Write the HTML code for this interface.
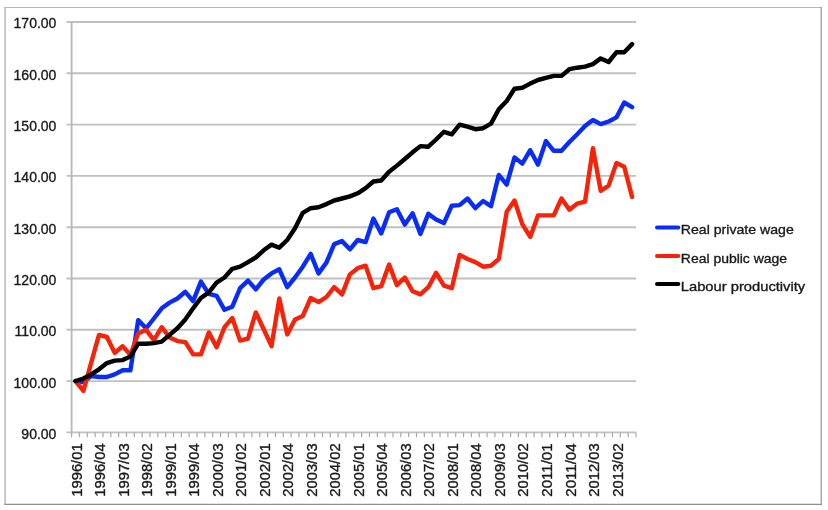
<!DOCTYPE html>
<html><head><meta charset="utf-8"><title>Chart</title>
<style>
html,body{margin:0;padding:0;background:#fff;}
body{width:828px;height:510px;overflow:hidden;}
svg{display:block;}
text{font-family:"Liberation Sans",sans-serif;fill:#1a1a1a;stroke:#1a1a1a;stroke-width:0.35px;}
</style></head><body>
<svg width="828" height="510" viewBox="0 0 828 510">
<rect x="0" y="0" width="828" height="510" fill="#fff"/>
<line x1="4.4" y1="7.5" x2="821.8" y2="7.5" stroke="#b8b8b8" stroke-width="1.2"/>
<line x1="5.1" y1="7" x2="5.1" y2="504.8" stroke="#b8b8b8" stroke-width="1.5"/>
<line x1="821.2" y1="7" x2="821.2" y2="504.9" stroke="#959595" stroke-width="1.2"/>
<line x1="4.4" y1="504.3" x2="821.8" y2="504.3" stroke="#8f8f8f" stroke-width="1.2"/>

<line x1="66.6" y1="22.0" x2="636.0" y2="22.0" stroke="#c0c0c0" stroke-width="1.9"/>
<line x1="66.6" y1="73.3" x2="636.0" y2="73.3" stroke="#c0c0c0" stroke-width="1.9"/>
<line x1="66.6" y1="124.6" x2="636.0" y2="124.6" stroke="#c0c0c0" stroke-width="1.9"/>
<line x1="66.6" y1="175.9" x2="636.0" y2="175.9" stroke="#c0c0c0" stroke-width="1.9"/>
<line x1="66.6" y1="227.2" x2="636.0" y2="227.2" stroke="#c0c0c0" stroke-width="1.9"/>
<line x1="66.6" y1="278.5" x2="636.0" y2="278.5" stroke="#c0c0c0" stroke-width="1.9"/>
<line x1="66.6" y1="329.8" x2="636.0" y2="329.8" stroke="#c0c0c0" stroke-width="1.9"/>
<line x1="66.6" y1="381.1" x2="636.0" y2="381.1" stroke="#c0c0c0" stroke-width="1.9"/>
<line x1="66.6" y1="432.4" x2="636.0" y2="432.4" stroke="#c0c0c0" stroke-width="1.9"/>
<line x1="71.6" y1="22.0" x2="71.6" y2="432.4" stroke="#b6b6b6" stroke-width="1.8"/>
<line x1="71.60" y1="432.4" x2="71.60" y2="437.2" stroke="#a8a8a8" stroke-width="1.2"/>
<line x1="79.44" y1="432.4" x2="79.44" y2="437.2" stroke="#a8a8a8" stroke-width="1.2"/>
<line x1="87.28" y1="432.4" x2="87.28" y2="437.2" stroke="#a8a8a8" stroke-width="1.2"/>
<line x1="95.12" y1="432.4" x2="95.12" y2="437.2" stroke="#a8a8a8" stroke-width="1.2"/>
<line x1="102.96" y1="432.4" x2="102.96" y2="437.2" stroke="#a8a8a8" stroke-width="1.2"/>
<line x1="110.79" y1="432.4" x2="110.79" y2="437.2" stroke="#a8a8a8" stroke-width="1.2"/>
<line x1="118.63" y1="432.4" x2="118.63" y2="437.2" stroke="#a8a8a8" stroke-width="1.2"/>
<line x1="126.47" y1="432.4" x2="126.47" y2="437.2" stroke="#a8a8a8" stroke-width="1.2"/>
<line x1="134.31" y1="432.4" x2="134.31" y2="437.2" stroke="#a8a8a8" stroke-width="1.2"/>
<line x1="142.15" y1="432.4" x2="142.15" y2="437.2" stroke="#a8a8a8" stroke-width="1.2"/>
<line x1="149.99" y1="432.4" x2="149.99" y2="437.2" stroke="#a8a8a8" stroke-width="1.2"/>
<line x1="157.83" y1="432.4" x2="157.83" y2="437.2" stroke="#a8a8a8" stroke-width="1.2"/>
<line x1="165.67" y1="432.4" x2="165.67" y2="437.2" stroke="#a8a8a8" stroke-width="1.2"/>
<line x1="173.51" y1="432.4" x2="173.51" y2="437.2" stroke="#a8a8a8" stroke-width="1.2"/>
<line x1="181.34" y1="432.4" x2="181.34" y2="437.2" stroke="#a8a8a8" stroke-width="1.2"/>
<line x1="189.18" y1="432.4" x2="189.18" y2="437.2" stroke="#a8a8a8" stroke-width="1.2"/>
<line x1="197.02" y1="432.4" x2="197.02" y2="437.2" stroke="#a8a8a8" stroke-width="1.2"/>
<line x1="204.86" y1="432.4" x2="204.86" y2="437.2" stroke="#a8a8a8" stroke-width="1.2"/>
<line x1="212.70" y1="432.4" x2="212.70" y2="437.2" stroke="#a8a8a8" stroke-width="1.2"/>
<line x1="220.54" y1="432.4" x2="220.54" y2="437.2" stroke="#a8a8a8" stroke-width="1.2"/>
<line x1="228.38" y1="432.4" x2="228.38" y2="437.2" stroke="#a8a8a8" stroke-width="1.2"/>
<line x1="236.22" y1="432.4" x2="236.22" y2="437.2" stroke="#a8a8a8" stroke-width="1.2"/>
<line x1="244.06" y1="432.4" x2="244.06" y2="437.2" stroke="#a8a8a8" stroke-width="1.2"/>
<line x1="251.89" y1="432.4" x2="251.89" y2="437.2" stroke="#a8a8a8" stroke-width="1.2"/>
<line x1="259.73" y1="432.4" x2="259.73" y2="437.2" stroke="#a8a8a8" stroke-width="1.2"/>
<line x1="267.57" y1="432.4" x2="267.57" y2="437.2" stroke="#a8a8a8" stroke-width="1.2"/>
<line x1="275.41" y1="432.4" x2="275.41" y2="437.2" stroke="#a8a8a8" stroke-width="1.2"/>
<line x1="283.25" y1="432.4" x2="283.25" y2="437.2" stroke="#a8a8a8" stroke-width="1.2"/>
<line x1="291.09" y1="432.4" x2="291.09" y2="437.2" stroke="#a8a8a8" stroke-width="1.2"/>
<line x1="298.93" y1="432.4" x2="298.93" y2="437.2" stroke="#a8a8a8" stroke-width="1.2"/>
<line x1="306.77" y1="432.4" x2="306.77" y2="437.2" stroke="#a8a8a8" stroke-width="1.2"/>
<line x1="314.61" y1="432.4" x2="314.61" y2="437.2" stroke="#a8a8a8" stroke-width="1.2"/>
<line x1="322.44" y1="432.4" x2="322.44" y2="437.2" stroke="#a8a8a8" stroke-width="1.2"/>
<line x1="330.28" y1="432.4" x2="330.28" y2="437.2" stroke="#a8a8a8" stroke-width="1.2"/>
<line x1="338.12" y1="432.4" x2="338.12" y2="437.2" stroke="#a8a8a8" stroke-width="1.2"/>
<line x1="345.96" y1="432.4" x2="345.96" y2="437.2" stroke="#a8a8a8" stroke-width="1.2"/>
<line x1="353.80" y1="432.4" x2="353.80" y2="437.2" stroke="#a8a8a8" stroke-width="1.2"/>
<line x1="361.64" y1="432.4" x2="361.64" y2="437.2" stroke="#a8a8a8" stroke-width="1.2"/>
<line x1="369.48" y1="432.4" x2="369.48" y2="437.2" stroke="#a8a8a8" stroke-width="1.2"/>
<line x1="377.32" y1="432.4" x2="377.32" y2="437.2" stroke="#a8a8a8" stroke-width="1.2"/>
<line x1="385.16" y1="432.4" x2="385.16" y2="437.2" stroke="#a8a8a8" stroke-width="1.2"/>
<line x1="392.99" y1="432.4" x2="392.99" y2="437.2" stroke="#a8a8a8" stroke-width="1.2"/>
<line x1="400.83" y1="432.4" x2="400.83" y2="437.2" stroke="#a8a8a8" stroke-width="1.2"/>
<line x1="408.67" y1="432.4" x2="408.67" y2="437.2" stroke="#a8a8a8" stroke-width="1.2"/>
<line x1="416.51" y1="432.4" x2="416.51" y2="437.2" stroke="#a8a8a8" stroke-width="1.2"/>
<line x1="424.35" y1="432.4" x2="424.35" y2="437.2" stroke="#a8a8a8" stroke-width="1.2"/>
<line x1="432.19" y1="432.4" x2="432.19" y2="437.2" stroke="#a8a8a8" stroke-width="1.2"/>
<line x1="440.03" y1="432.4" x2="440.03" y2="437.2" stroke="#a8a8a8" stroke-width="1.2"/>
<line x1="447.87" y1="432.4" x2="447.87" y2="437.2" stroke="#a8a8a8" stroke-width="1.2"/>
<line x1="455.71" y1="432.4" x2="455.71" y2="437.2" stroke="#a8a8a8" stroke-width="1.2"/>
<line x1="463.54" y1="432.4" x2="463.54" y2="437.2" stroke="#a8a8a8" stroke-width="1.2"/>
<line x1="471.38" y1="432.4" x2="471.38" y2="437.2" stroke="#a8a8a8" stroke-width="1.2"/>
<line x1="479.22" y1="432.4" x2="479.22" y2="437.2" stroke="#a8a8a8" stroke-width="1.2"/>
<line x1="487.06" y1="432.4" x2="487.06" y2="437.2" stroke="#a8a8a8" stroke-width="1.2"/>
<line x1="494.90" y1="432.4" x2="494.90" y2="437.2" stroke="#a8a8a8" stroke-width="1.2"/>
<line x1="502.74" y1="432.4" x2="502.74" y2="437.2" stroke="#a8a8a8" stroke-width="1.2"/>
<line x1="510.58" y1="432.4" x2="510.58" y2="437.2" stroke="#a8a8a8" stroke-width="1.2"/>
<line x1="518.42" y1="432.4" x2="518.42" y2="437.2" stroke="#a8a8a8" stroke-width="1.2"/>
<line x1="526.26" y1="432.4" x2="526.26" y2="437.2" stroke="#a8a8a8" stroke-width="1.2"/>
<line x1="534.09" y1="432.4" x2="534.09" y2="437.2" stroke="#a8a8a8" stroke-width="1.2"/>
<line x1="541.93" y1="432.4" x2="541.93" y2="437.2" stroke="#a8a8a8" stroke-width="1.2"/>
<line x1="549.77" y1="432.4" x2="549.77" y2="437.2" stroke="#a8a8a8" stroke-width="1.2"/>
<line x1="557.61" y1="432.4" x2="557.61" y2="437.2" stroke="#a8a8a8" stroke-width="1.2"/>
<line x1="565.45" y1="432.4" x2="565.45" y2="437.2" stroke="#a8a8a8" stroke-width="1.2"/>
<line x1="573.29" y1="432.4" x2="573.29" y2="437.2" stroke="#a8a8a8" stroke-width="1.2"/>
<line x1="581.13" y1="432.4" x2="581.13" y2="437.2" stroke="#a8a8a8" stroke-width="1.2"/>
<line x1="588.97" y1="432.4" x2="588.97" y2="437.2" stroke="#a8a8a8" stroke-width="1.2"/>
<line x1="596.81" y1="432.4" x2="596.81" y2="437.2" stroke="#a8a8a8" stroke-width="1.2"/>
<line x1="604.64" y1="432.4" x2="604.64" y2="437.2" stroke="#a8a8a8" stroke-width="1.2"/>
<line x1="612.48" y1="432.4" x2="612.48" y2="437.2" stroke="#a8a8a8" stroke-width="1.2"/>
<line x1="620.32" y1="432.4" x2="620.32" y2="437.2" stroke="#a8a8a8" stroke-width="1.2"/>
<line x1="628.16" y1="432.4" x2="628.16" y2="437.2" stroke="#a8a8a8" stroke-width="1.2"/>
<line x1="636.00" y1="432.4" x2="636.00" y2="437.2" stroke="#a8a8a8" stroke-width="1.2"/>
<text x="56.4" y="28.4" font-size="14" text-anchor="end">170.00</text>
<text x="56.4" y="79.7" font-size="14" text-anchor="end">160.00</text>
<text x="56.4" y="131.0" font-size="14" text-anchor="end">150.00</text>
<text x="56.4" y="182.3" font-size="14" text-anchor="end">140.00</text>
<text x="56.4" y="233.6" font-size="14" text-anchor="end">130.00</text>
<text x="56.4" y="284.9" font-size="14" text-anchor="end">120.00</text>
<text x="56.4" y="336.2" font-size="14" text-anchor="end">110.00</text>
<text x="56.4" y="387.5" font-size="14" text-anchor="end">100.00</text>
<text x="56.4" y="438.8" font-size="14" text-anchor="end">90.00</text>
<text transform="translate(81.6,496.7) rotate(-90)" font-size="14" textLength="53.3" lengthAdjust="spacingAndGlyphs">1996/01</text>
<text transform="translate(105.1,496.7) rotate(-90)" font-size="14" textLength="53.3" lengthAdjust="spacingAndGlyphs">1996/04</text>
<text transform="translate(128.7,496.7) rotate(-90)" font-size="14" textLength="53.3" lengthAdjust="spacingAndGlyphs">1997/03</text>
<text transform="translate(152.2,496.7) rotate(-90)" font-size="14" textLength="53.3" lengthAdjust="spacingAndGlyphs">1998/02</text>
<text transform="translate(175.7,496.7) rotate(-90)" font-size="14" textLength="53.3" lengthAdjust="spacingAndGlyphs">1999/01</text>
<text transform="translate(199.2,496.7) rotate(-90)" font-size="14" textLength="53.3" lengthAdjust="spacingAndGlyphs">1999/04</text>
<text transform="translate(222.7,496.7) rotate(-90)" font-size="14" textLength="53.3" lengthAdjust="spacingAndGlyphs">2000/03</text>
<text transform="translate(246.2,496.7) rotate(-90)" font-size="14" textLength="53.3" lengthAdjust="spacingAndGlyphs">2001/02</text>
<text transform="translate(269.8,496.7) rotate(-90)" font-size="14" textLength="53.3" lengthAdjust="spacingAndGlyphs">2002/01</text>
<text transform="translate(293.3,496.7) rotate(-90)" font-size="14" textLength="53.3" lengthAdjust="spacingAndGlyphs">2002/04</text>
<text transform="translate(316.8,496.7) rotate(-90)" font-size="14" textLength="53.3" lengthAdjust="spacingAndGlyphs">2003/03</text>
<text transform="translate(340.3,496.7) rotate(-90)" font-size="14" textLength="53.3" lengthAdjust="spacingAndGlyphs">2004/02</text>
<text transform="translate(363.8,496.7) rotate(-90)" font-size="14" textLength="53.3" lengthAdjust="spacingAndGlyphs">2005/01</text>
<text transform="translate(387.3,496.7) rotate(-90)" font-size="14" textLength="53.3" lengthAdjust="spacingAndGlyphs">2005/04</text>
<text transform="translate(410.9,496.7) rotate(-90)" font-size="14" textLength="53.3" lengthAdjust="spacingAndGlyphs">2006/03</text>
<text transform="translate(434.4,496.7) rotate(-90)" font-size="14" textLength="53.3" lengthAdjust="spacingAndGlyphs">2007/02</text>
<text transform="translate(457.9,496.7) rotate(-90)" font-size="14" textLength="53.3" lengthAdjust="spacingAndGlyphs">2008/01</text>
<text transform="translate(481.4,496.7) rotate(-90)" font-size="14" textLength="53.3" lengthAdjust="spacingAndGlyphs">2008/04</text>
<text transform="translate(504.9,496.7) rotate(-90)" font-size="14" textLength="53.3" lengthAdjust="spacingAndGlyphs">2009/03</text>
<text transform="translate(528.4,496.7) rotate(-90)" font-size="14" textLength="53.3" lengthAdjust="spacingAndGlyphs">2010/02</text>
<text transform="translate(552.0,496.7) rotate(-90)" font-size="14" textLength="53.3" lengthAdjust="spacingAndGlyphs">2011/01</text>
<text transform="translate(575.5,496.7) rotate(-90)" font-size="14" textLength="53.3" lengthAdjust="spacingAndGlyphs">2011/04</text>
<text transform="translate(599.0,496.7) rotate(-90)" font-size="14" textLength="53.3" lengthAdjust="spacingAndGlyphs">2012/03</text>
<text transform="translate(622.5,496.7) rotate(-90)" font-size="14" textLength="53.3" lengthAdjust="spacingAndGlyphs">2013/02</text>
<polyline points="75.5,381.1 83.4,382.1 91.2,376.0 99.0,377.0 106.9,377.0 114.7,374.4 122.6,370.3 130.4,370.3 138.2,320.1 146.1,328.3 153.9,318.5 161.7,308.3 169.6,302.6 177.4,298.5 185.3,291.8 193.1,301.1 200.9,281.6 208.8,293.9 216.6,295.9 224.5,309.8 232.3,306.7 240.1,288.2 248.0,280.6 255.8,289.3 263.7,279.5 271.5,273.4 279.3,269.3 287.2,287.2 295.0,277.5 302.8,266.7 310.7,253.9 318.5,273.4 326.4,262.6 334.2,244.1 342.0,241.1 349.9,249.3 357.7,240.0 365.6,242.1 373.4,218.5 381.2,233.4 389.1,212.3 396.9,209.2 404.8,224.6 412.6,213.3 420.4,233.9 428.3,213.9 436.1,219.5 443.9,223.1 451.8,205.7 459.6,205.1 467.5,198.5 475.3,208.2 483.1,201.0 491.0,206.2 498.8,174.9 506.7,184.6 514.5,157.4 522.3,163.6 530.2,150.2 538.0,164.6 545.9,141.0 553.7,150.8 561.5,150.8 569.4,142.0 577.2,134.3 585.0,126.1 592.9,120.0 600.7,124.1 608.6,121.5 616.4,117.4 624.2,102.5 632.1,107.2" fill="none" stroke="#0a2df5" stroke-width="4.4" stroke-linejoin="round" stroke-linecap="round"/>
<polyline points="75.5,381.1 83.4,390.8 91.2,362.6 99.0,334.9 106.9,337.0 114.7,352.9 122.6,346.2 130.4,354.9 138.2,333.4 146.1,329.8 153.9,340.1 161.7,327.2 169.6,337.5 177.4,341.1 185.3,342.1 193.1,354.4 200.9,354.4 208.8,332.4 216.6,347.2 224.5,327.2 232.3,318.0 240.1,340.6 248.0,338.5 255.8,312.4 263.7,329.3 271.5,346.2 279.3,298.5 287.2,334.4 295.0,319.5 302.8,315.9 310.7,298.0 318.5,302.1 326.4,297.0 334.2,287.2 342.0,294.4 349.9,274.4 357.7,268.2 365.6,265.7 373.4,288.2 381.2,286.2 389.1,264.6 396.9,285.2 404.8,277.5 412.6,291.3 420.4,294.4 428.3,287.2 436.1,272.9 443.9,285.7 451.8,288.2 459.6,254.9 467.5,259.0 475.3,262.1 483.1,266.7 491.0,265.7 498.8,259.0 506.7,211.8 514.5,200.5 522.3,224.1 530.2,236.9 538.0,215.4 545.9,215.4 553.7,215.4 561.5,198.5 569.4,209.8 577.2,203.6 585.0,201.6 592.9,148.2 600.7,190.8 608.6,185.6 616.4,163.1 624.2,166.7 632.1,196.9" fill="none" stroke="#f5230a" stroke-width="4.4" stroke-linejoin="round" stroke-linecap="round"/>
<polyline points="75.5,381.1 83.4,378.5 91.2,374.4 99.0,369.3 106.9,363.1 114.7,360.6 122.6,360.1 130.4,356.5 138.2,343.7 146.1,343.7 153.9,343.1 161.7,341.6 169.6,334.9 177.4,328.3 185.3,319.5 193.1,308.3 200.9,298.0 208.8,292.4 216.6,282.6 224.5,277.5 232.3,268.8 240.1,266.7 248.0,262.1 255.8,257.5 263.7,250.3 271.5,244.6 279.3,247.7 287.2,240.0 295.0,228.2 302.8,212.8 310.7,208.2 318.5,207.2 326.4,204.1 334.2,200.5 342.0,198.5 349.9,196.4 357.7,193.3 365.6,188.2 373.4,181.5 381.2,180.5 389.1,171.8 396.9,165.6 404.8,159.0 412.6,152.3 420.4,146.1 428.3,146.7 436.1,139.5 443.9,131.8 451.8,134.3 459.6,124.6 467.5,126.7 475.3,129.2 483.1,128.2 491.0,123.6 498.8,109.2 506.7,101.0 514.5,88.7 522.3,87.7 530.2,83.6 538.0,80.0 545.9,77.9 553.7,75.9 561.5,75.9 569.4,69.2 577.2,67.7 585.0,66.6 592.9,64.1 600.7,58.4 608.6,62.0 616.4,52.3 624.2,52.3 632.1,44.1" fill="none" stroke="#000" stroke-width="4.4" stroke-linejoin="round" stroke-linecap="round"/>
<line x1="657" y1="227.5" x2="678.3" y2="227.5" stroke="#0a2df5" stroke-width="4" stroke-linecap="round"/>
<text x="680.8" y="234.4" font-size="13.3" textLength="113" lengthAdjust="spacingAndGlyphs">Real private wage</text>
<line x1="657" y1="256" x2="678.3" y2="256" stroke="#f5230a" stroke-width="4" stroke-linecap="round"/>
<text x="680.8" y="262.9" font-size="13.3" textLength="106.3" lengthAdjust="spacingAndGlyphs">Real public wage</text>
<line x1="657" y1="284" x2="678.3" y2="284" stroke="#000" stroke-width="4" stroke-linecap="round"/>
<text x="680.8" y="290.9" font-size="13.3" textLength="124.4" lengthAdjust="spacingAndGlyphs">Labour productivity</text>
</svg></body></html>
